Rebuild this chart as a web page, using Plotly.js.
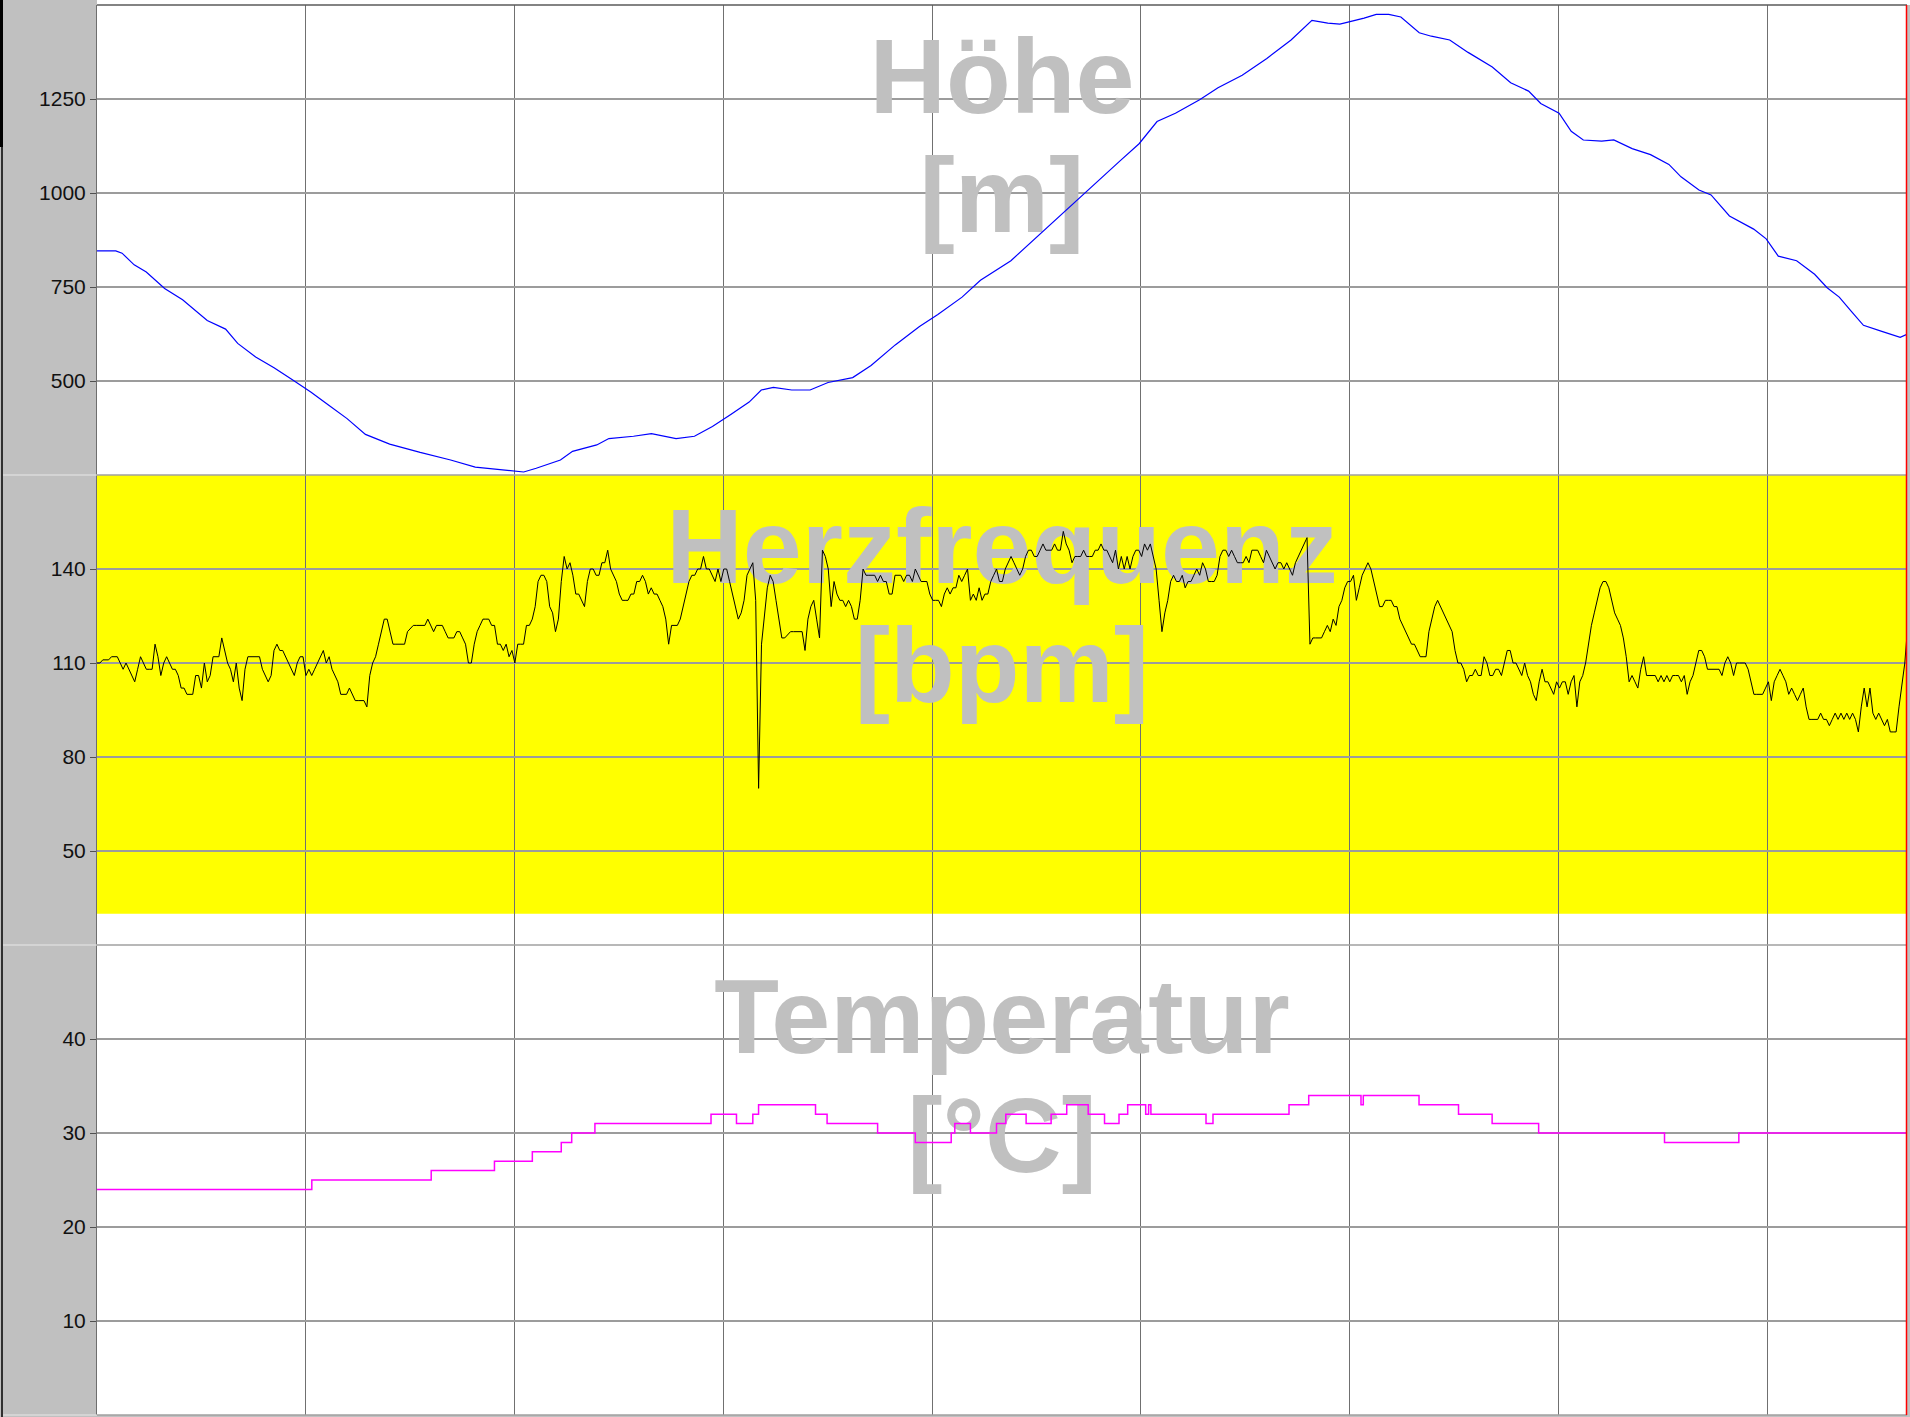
<!DOCTYPE html>
<html><head><meta charset="utf-8">
<script src="https://cdn.plot.ly/plotly-3.0.1.min.js"></script>
<style>html,body{margin:0;padding:0;background:#fff;}#chart{width:1910px;height:1417px;}</style>
</head><body><div id="chart"></div>
<script>
// ---------- data (distance in km) ----------
const hrStepKm = 0.069503;           // sample spacing of the heart-rate record
const heartRate = [
110,110,111,111,111,112,112,112,110,108,
110,108,106,104,108,112,110,108,108,108,
116,112,106,110,112,110,108,108,106,102,
102,100,100,100,106,106,102,110,104,106,
112,112,112,118,114,110,108,104,110,102,
98,108,112,112,112,112,112,108,106,104,
106,114,116,114,114,112,110,108,106,110,
112,112,106,108,106,108,110,112,114,110,
112,108,106,104,100,100,100,102,100,98,
98,98,98,96,106,110,112,116,120,124,
124,120,116,116,116,116,116,120,121,122,
122,122,122,122,124,122,120,122,122,122,
120,118,118,118,120,120,118,116,110,110,
116,120,122,124,124,124,122,122,116,116,
114,116,112,114,110,116,116,116,122,122,
124,128,136,138,138,136,128,126,120,124,
136,144,140,142,138,132,132,130,128,136,
140,140,138,138,142,142,146,140,138,136,
132,130,130,130,132,132,136,136,138,136,
132,134,132,132,130,128,124,116,122,122,
122,124,128,132,136,138,138,140,140,144,
140,140,138,136,140,136,140,140,136,132,
128,124,126,130,138,140,142,130,70,116,
126,134,138,136,130,124,118,118,119,120,
120,120,120,120,114,124,128,130,124,118,
146,144,140,128,136,132,130,130,128,130,
128,124,124,130,140,138,138,138,138,136,
138,136,136,132,132,138,138,138,136,138,
138,136,140,138,136,136,136,132,130,130,
130,128,132,134,132,134,134,138,136,138,
140,130,132,130,134,130,132,132,136,138,
140,136,
136,140,142,144,142,140,138,140,144,146,
146,144,144,146,148,146,146,146,148,146,
146,152,148,146,142,144,144,144,146,144,
144,144,146,146,148,146,146,144,142,146,
140,144,140,144,140,144,146,146,144,148,
146,148,144,140,130,120,126,130,136,138,
136,136,138,134,136,136,138,140,138,142,
140,136,136,136,138,144,146,146,144,146,
144,142,142,142,144,142,146,146,146,144,
142,146,144,142,140,142,142,140,142,140,
138,142,144,146,148,150,116,118,118,118,
118,120,122,120,124,122,128,130,134,136,
136,138,130,134,138,140,142,140,136,132,
128,128,130,130,130,128,128,124,122,120,
118,116,116,114,112,112,112,120,124,128,
130,128,126,124,122,120,114,110,110,108,
104,106,106,108,106,106,112,110,106,106,
108,108,106,110,114,114,110,110,108,106,
110,106,104,100,98,104,108,104,104,102,
100,104,102,104,104,100,104,106,96,104,
106,110,116,122,126,130,134,136,136,134,
130,126,124,122,118,112,104,106,104,102,
108,112,106,106,106,106,104,106,104,106,
104,106,106,106,104,106,100,104,106,110,
114,114,112,108,108,108,108,108,106,110,
112,110,106,110,110,110,110,108,104,100,
100,100,100,102,104,98,104,106,108,106,
104,100,102,100,98,100,102,96,92,92,
92,92,94,92,92,90,92,94,92,94,
92,94,92,94,92,88,96,102,96,102,
94,92,94,92,90,92,88,88,88,96,
104,110,122
];

const elevKm = [0,0.45,0.60,0.89,1.18,1.47,1.62,2.05,2.35,2.64,3.08,3.37,3.80,4.24,4.68,5.12,5.56,5.99,6.43,7.01,7.74,8.47,9.06,9.93,10.22,10.52,11.10,11.39,11.97,12.26,12.85,13.28,13.87,14.31,14.74,15.18,15.62,15.91,16.20,16.64,17.08,17.51,18.10,18.54,19.12,19.70,20.14,20.72,21.16,21.89,22.33,22.91,23.35,23.93,24.51,24.96,25.39,25.83,26.41,26.85,27.43,28.02,28.60,29.10,29.48,29.77,30.06,30.35,30.64,30.94,31.23,31.67,31.96,32.40,32.84,33.42,33.86,34.29,34.58,35.02,35.31,35.60,36.04,36.33,36.77,37.21,37.65,37.94,38.37,38.66,39.10,39.68,39.98,40.27,40.71,41.14,41.44,41.73,42.02,42.31,42.75,43.19,43.35];
const elevM = [846,846,840,809,790,762,746,716,687,661,638,600,564,535,503,471,435,400,358,332,310,290,271,261,258,268,290,313,330,347,353,360,347,353,379,411,444,476,483,476,476,496,509,541,596,645,677,723,768,820,865,923,969,1027,1086,1131,1190,1212,1248,1280,1313,1358,1407,1459,1452,1449,1456,1465,1475,1475,1468,1426,1417,1407,1374,1335,1293,1271,1238,1212,1164,1141,1138,1141,1118,1102,1076,1043,1008,995,939,904,878,832,820,784,748,723,685,648,632,616,624];

const tempKm = [0,5.145,8.005,9.52,10.427,11.12,11.37,11.926,14.707,15.317,15.708,15.846,17.21,17.487,18.697,19.6,20.46,20.546,20.92,21.545,21.768,22.254,22.853,23.227,23.741,24.132,24.479,24.687,25.118,25.188,25.243,26.563,26.73,28.551,29.023,30.275,30.33,31.665,32.611,33.416,34.53,37.545,39.325,43.353];
const tempC = [24,25,26,27,28,29,30,31,32,31,32,33,32,31,30,29,30,31,30,31,32,31,32,33,32,31,32,33,32,33,32,31,32,33,34,33,34,33,32,31,30,29,30,30];

const elevTicks = [500,750,1000,1250];
const hrTicks = [50,80,110,140];
const tempTicks = [10,20,30,40];
const xRange = [0, 43.353];
const elevRange = [250,1500];
const hrRange = [20,170];
const tempRange = [0,50];
const hrZoneLow = 30;
const panelTitles = [["Höhe","[m]"],["Herzfrequenz","[bpm]"],["Temperatur","[°C]"]];

// ---------- layout geometry ----------
const W = 1910, H = 1417;
const M = {l:97, r:3, t:5, b:2, pad:0};
const plotW = W - M.l - M.r, plotH = H - M.t - M.b, panelH = plotH / 3;
const TITLE_SIZE = 106;
function yFromTop(range, px){ return range[1] - px / panelH * (range[1] - range[0]); }
function pxX(px){ return (px - M.l) / plotW; }          // figure px -> paper x
function pxY(py){ return (H - M.b - py) / plotH; }      // figure px -> paper y

const ranges = [elevRange, hrRange, tempRange];
const yNames = ['y','y2','y3'];
const xMid = (xRange[0] + xRange[1]) / 2;

const traces = [];
panelTitles.forEach((lines, i) => {
  const off = 0.25 * TITLE_SIZE;
  traces.push({
    type:'scatter', mode:'text', xaxis:'x', yaxis:yNames[i],
    x:[xMid, xMid],
    y:[yFromTop(ranges[i], 108 - off), yFromTop(ranges[i], 227 - off)],
    text: lines.map(t => '<b>' + t + '</b>'),
    textposition:'middle center',
    textfont:{family:'Liberation Sans, Arial, sans-serif', size:TITLE_SIZE, color:'#c0c0c0'},
    hoverinfo:'skip', showlegend:false
  });
});
traces.push({type:'scatter', mode:'lines', xaxis:'x', yaxis:'y', x:elevKm, y:elevM,
  line:{color:'#0000ff', width:1.2}, hoverinfo:'skip', showlegend:false});
traces.push({type:'scatter', mode:'lines', xaxis:'x', yaxis:'y2', x0:0, dx:hrStepKm, y:heartRate,
  line:{color:'#000000', width:1}, hoverinfo:'skip', showlegend:false});
traces.push({type:'scatter', mode:'lines', xaxis:'x', yaxis:'y3', x:tempKm, y:tempC,
  line:{color:'#ff00ff', width:1.5, shape:'hv'}, hoverinfo:'skip', showlegend:false});

const yCommon = {
  anchor:'x', showgrid:true, gridcolor:'#9c9c9c', gridwidth:1.3, zeroline:false,
  showline:true, linecolor:'#6e6e6e', linewidth:1,
  ticks:'outside', ticklen:6, tickwidth:1, tickcolor:'#505050',
  tickfont:{family:'Liberation Sans, Arial, sans-serif', size:21, color:'#111111'},
  fixedrange:true
};

const shapes = [
  // heart-rate zone band
  {type:'rect', xref:'paper', yref:'y2', x0:0, x1:1, y0:hrZoneLow, y1:hrRange[1],
   fillcolor:'#ffff00', line:{width:0}, layer:'below'},
  // white strip above plot
  {type:'rect', xref:'paper', yref:'paper', x0:0, x1:pxX(W), y0:1, y1:pxY(0),
   fillcolor:'#ffffff', line:{width:0}, layer:'above'},
  // panel borders
  {type:'line', xref:'paper', yref:'paper', x0:0, x1:1, y0:1, y1:1, line:{color:'#5a5a5a', width:1.5}, layer:'above'},
  {type:'line', xref:'paper', yref:'paper', x0:0, x1:1, y0:2/3, y1:2/3, line:{color:'#a0a0a0', width:1.5}, layer:'above'},
  {type:'line', xref:'paper', yref:'paper', x0:0, x1:1, y0:1/3, y1:1/3, line:{color:'#a0a0a0', width:1.5}, layer:'above'},
  {type:'line', xref:'paper', yref:'paper', x0:0, x1:1, y0:0, y1:0, line:{color:'#a0a0a0', width:1.5}, layer:'above'},
  // light separators in the grey label strip
  {type:'line', xref:'paper', yref:'paper', x0:pxX(3), x1:0, y0:2/3, y1:2/3, line:{color:'#e8e8e8', width:1}, layer:'above'},
  {type:'line', xref:'paper', yref:'paper', x0:pxX(3), x1:0, y0:1/3, y1:1/3, line:{color:'#e8e8e8', width:1}, layer:'above'},
  {type:'line', xref:'paper', yref:'paper', x0:pxX(3), x1:0, y0:0, y1:0, line:{color:'#e8e8e8', width:1}, layer:'above'},
  // black left frame
  {type:'rect', xref:'paper', yref:'paper', x0:pxX(0), x1:pxX(3), y0:pxY(147), y1:pxY(0),
   fillcolor:'#000000', line:{width:0}, layer:'above'},
  {type:'line', xref:'paper', yref:'paper', x0:pxX(2), x1:pxX(2), y0:pxY(H), y1:pxY(147),
   line:{color:'#000000', width:1.5}, layer:'above'},
  // red position marker at end
  {type:'line', xref:'paper', yref:'paper', x0:pxX(W - M.r - 0.5), x1:pxX(W - M.r - 0.5), y0:0, y1:1,
   line:{color:'#ff0000', width:1.5}, layer:'above'}
];

const layout = {
  width:W, height:H, margin:M,
  paper_bgcolor:'#c0c0c0', plot_bgcolor:'#ffffff',
  showlegend:false, hovermode:false,
  xaxis:{domain:[0,1], range:xRange, anchor:'y3', tick0:0, dtick:5,
    showgrid:true, gridcolor:'#707070', gridwidth:1, zeroline:false,
    showticklabels:false, ticks:'', showline:false, fixedrange:true},
  yaxis:Object.assign({}, yCommon, {domain:[2/3,1], range:elevRange, tickvals:elevTicks}),
  yaxis2:Object.assign({}, yCommon, {domain:[1/3,2/3], range:hrRange, tickvals:hrTicks}),
  yaxis3:Object.assign({}, yCommon, {domain:[0,1/3], range:tempRange, tickvals:tempTicks}),
  shapes:shapes
};

Plotly.newPlot('chart', traces, layout, {staticPlot:true, displayModeBar:false});
</script>
</body></html>
